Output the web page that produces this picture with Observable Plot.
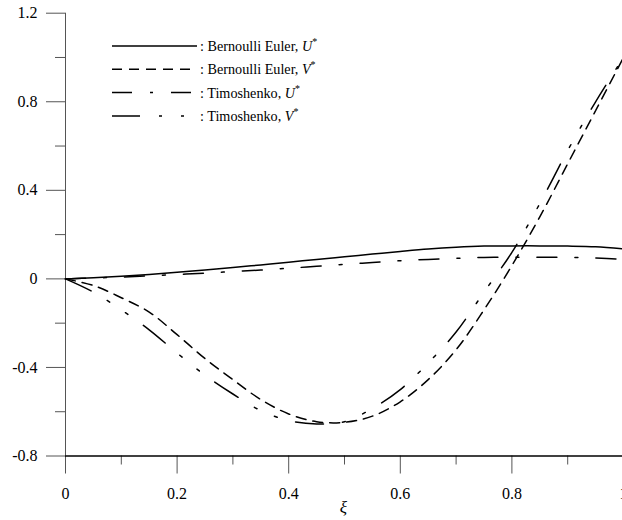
<!DOCTYPE html>
<html><head><meta charset="utf-8">
<script src="https://cdn.jsdelivr.net/npm/d3@7"></script>
<script src="https://cdn.jsdelivr.net/npm/@observablehq/plot@0.6"></script>
<style>
html,body{margin:0;padding:0;background:#fff;}
#wrap{position:relative;width:622px;height:520px;overflow:hidden;background:#fff;}
#wrap svg{position:absolute;left:0;top:0;}
</style></head><body><div id="wrap"></div>
<script>
// ξ positions
const xi = [0,0.05,0.1,0.15,0.2,0.25,0.3,0.35,0.4,0.45,0.5,0.55,0.6,0.65,0.7,0.75,0.8,0.85,0.9,0.95,1.0];
// Bernoulli Euler U*
const beU = [0,0.005,0.012,0.02,0.03,0.04,0.051,0.063,0.075,0.088,0.1,0.112,0.124,0.135,0.143,0.148,0.149,0.149,0.148,0.145,0.136];
// Bernoulli Euler V*
const beV = [0,-0.03,-0.085,-0.15,-0.252,-0.36,-0.455,-0.545,-0.61,-0.645,-0.648,-0.62,-0.555,-0.455,-0.32,-0.14,0.06,0.28,0.52,0.76,1.0];
// Timoshenko U*
const tiU = [0,0.004,0.008,0.014,0.02,0.026,0.033,0.04,0.048,0.057,0.066,0.074,0.082,0.088,0.093,0.097,0.098,0.098,0.097,0.094,0.088];
// Timoshenko V*
const tiV = [0,-0.06,-0.14,-0.23,-0.335,-0.435,-0.52,-0.595,-0.64,-0.655,-0.645,-0.585,-0.5,-0.38,-0.24,-0.06,0.12,0.34,0.58,0.8,1.0];

const seriesLabels = [": Bernoulli Euler, ", ": Bernoulli Euler, ", ": Timoshenko, ", ": Timoshenko, "];
const seriesVars = ["U", "V", "U", "V"];
const seriesValues = [beU, beV, tiU, tiV];
const seriesDash = [null, "10,7", "20,18,3,18", "28,19,3,19,3,19"];

const xMajor = [0, 0.2, 0.4, 0.6, 0.8, 1];
const xMajorLabels = ["0", "0.2", "0.4", "0.6", "0.8", "1"];
const xMinor = [0.1, 0.3, 0.5, 0.7, 0.9];
const yMajor = [-0.8, -0.4, 0, 0.4, 0.8, 1.2];
const yMajorLabels = ["-0.8", "-0.4", "0", "0.4", "0.8", "1.2"];
const yMinor = [-0.6, -0.2, 0.2, 0.6, 1.0];
const xLabel = "ξ";

const lineMarks = seriesValues.map((vals, i) => Plot.line(
  xi.map((x, j) => ({xi: x, value: vals[j]})),
  {x: "xi", y: "value", stroke: "#000", strokeWidth: 1.5,
   strokeDasharray: seriesDash[i] || undefined, curve: "catmull-rom"}
));

const chart = Plot.plot({
  width: 622, height: 520,
  marginLeft: 65, marginRight: 0, marginTop: 12.7, marginBottom: 64.5,
  x: {domain: [0, 1], range: [65, 623]},
  y: {domain: [-0.8, 1.2]},
  style: {fontFamily: "'Liberation Serif', 'Times New Roman', serif", fontSize: "16px", color: "#000", background: "transparent"},
  marks: [
    Plot.ruleX([0], {stroke: "#555", strokeWidth: 1}),
    Plot.axisY({ticks: yMajor, tickSize: 19, tickPadding: 9, label: null, stroke: "#555", fill: "#000",
      tickFormat: d => yMajorLabels[yMajor.indexOf(d)], fontSize: 16}),
    Plot.axisY({ticks: yMinor, tickSize: 10, label: null, stroke: "#555", tickFormat: () => ""}),
    Plot.axisX({ticks: xMajor, tickSize: 18, tickPadding: 14, label: null, stroke: "#555", fill: "#000",
      tickFormat: d => xMajorLabels[xMajor.indexOf(d)], fontSize: 16}),
    Plot.axisX({ticks: xMinor, tickSize: 9, label: null, stroke: "#555", tickFormat: () => ""}),
    Plot.ruleY([-0.8], {stroke: "#000", strokeWidth: 1.5}),
    ...lineMarks,
    Plot.text([0.5], {x: d => d, frameAnchor: "bottom", dy: 57, dx: -1, text: () => xLabel,
      fontStyle: "italic", fontSize: 17, fill: "#000"})
  ]
});
const wrap = document.getElementById("wrap");
wrap.appendChild(chart);

// Legend overlay
const leg = d3.create("svg").attr("width", 622).attr("height", 520)
  .style("font-family", "'Liberation Serif', 'Times New Roman', serif");
seriesLabels.forEach((lab, i) => {
  const y = 46 + i * 23.3;
  leg.append("line").attr("x1", 112).attr("x2", 197).attr("y1", y).attr("y2", y)
    .attr("stroke", "#000").attr("stroke-width", 1.5)
    .attr("stroke-dasharray", seriesDash[i] || null);
  const t = leg.append("text").attr("x", 200).attr("y", y + 5).attr("font-size", 14.2).attr("fill", "#000");
  t.append("tspan").text(lab);
  t.append("tspan").attr("font-style", "italic").text(seriesVars[i]);
  t.append("tspan").attr("font-size", 10).attr("dy", -6).text("*");
});
wrap.appendChild(leg.node());
</script></body></html>
